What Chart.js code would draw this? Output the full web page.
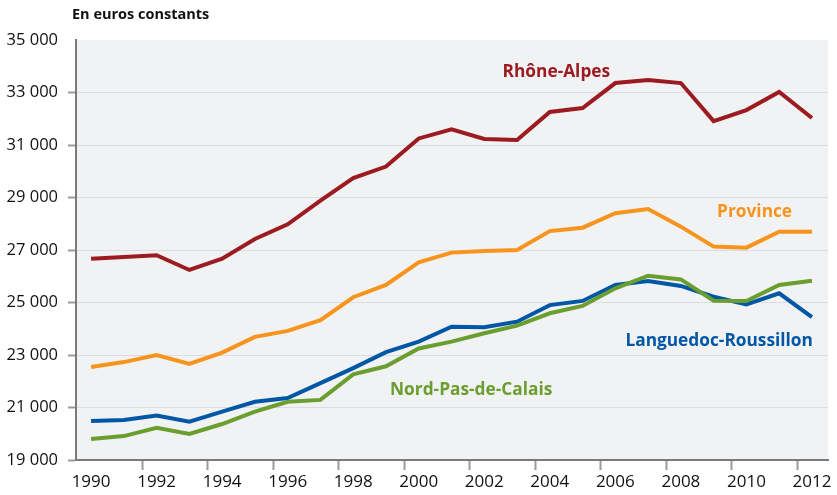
<!DOCTYPE html>
<html>
<head>
<meta charset="utf-8">
<script src="https://cdn.jsdelivr.net/npm/chart.js@4/dist/chart.umd.min.js"></script>
<style>
  html,body{margin:0;padding:0;background:#fff;}
  #wrap{width:837px;height:495px;position:relative;}
</style>
</head>
<body>
<div id="wrap"><canvas id="c"></canvas></div>
<script>
// données (en euros constants)
const years = [1990,1991,1992,1993,1994,1995,1996,1997,1998,1999,2000,2001,2002,2003,2004,2005,2006,2007,2008,2009,2010,2011,2012];
const rhoneAlpes = [26670,26730,26800,26240,26670,27420,27980,28880,29740,30180,31250,31600,31230,31190,32260,32410,33360,33480,33360,31910,32330,33020,32030];
const province   = [22540,22730,23000,22660,23090,23690,23920,24330,25200,25670,26530,26900,26960,27000,27720,27850,28400,28560,27890,27130,27090,27700,27700];
const languedoc  = [20490,20520,20690,20460,20840,21220,21360,21930,22500,23110,23510,24080,24060,24270,24900,25060,25670,25820,25630,25220,24930,25350,24440];
const nordPas    = [19800,19910,20230,19990,20370,20840,21220,21290,22260,22570,23250,23510,23830,24120,24590,24870,25540,26020,25880,25070,25060,25670,25830];
const yTicks = [19000,21000,23000,25000,27000,29000,31000,33000,35000];
const xLabels = [1990,1992,1994,1996,1998,2000,2002,2004,2006,2008,2010,2012];

const FONT = '"Open Sans", "DejaVu Sans", sans-serif';
const fmt = v => String(v).replace(/\B(?=(\d{3})+(?!\d))/g, ' ');
const pts = arr => years.map((y,i)=>({x:y, y:arr[i]}));

// étiquettes des séries : [texte, couleur, année, valeur, alignement]
const seriesLabels = [
  ['Rhône-Alpes', '#9b1b20', 2004.2, 33780, 'center'],
  ['Province', '#f7941d', 2010.25, 28450, 'center'],
  ['Languedoc-Roussillon', '#0057a6', 2012.03, 23530, 'right'],
  ['Nord-Pas-de-Calais', '#6a9e2f', 2001.6, 21670, 'center']
];

const bgPlugin = {
  id:'bg',
  beforeDraw(chart){
    const {ctx, chartArea:a} = chart;
    ctx.save(); ctx.fillStyle='#f1f2f4';
    ctx.fillRect(a.left, a.top, a.right-a.left, a.bottom-a.top);
    ctx.restore();
  },
  afterDraw(chart){
    const {ctx, scales:{x,y}} = chart;
    ctx.save();
    ctx.fillStyle='#111'; ctx.font='bold 14.5px '+FONT; ctx.textBaseline='middle'; ctx.textAlign='left';
    ctx.fillText('En euros constants', 72, 15);
    ctx.font='bold 17.3px '+FONT;
    seriesLabels.forEach(([t,c,xv,yv,al])=>{
      ctx.fillStyle=c; ctx.textAlign=al;
      ctx.fillText(t, x.getPixelForValue(xv), y.getPixelForValue(yv));
    });
    ctx.restore();
  }
};

const ds = (data, color) => ({data:pts(data), borderColor:color, borderWidth:4, pointRadius:0, tension:0, fill:false});

new Chart(document.getElementById('c'), {
  type:'line',
  data:{ datasets:[
    ds(nordPas, '#6a9e2f'),
    ds(languedoc, '#0057a6'),
    ds(province, '#f7941d'),
    ds(rhoneAlpes, '#9b1b20')
  ]},
  options:{
    responsive:true, maintainAspectRatio:false, animation:false,
    layout:{padding:{top:40, right:9, left:0, bottom:0}},
    plugins:{legend:{display:false}, tooltip:{enabled:false}},
    scales:{
      x:{
        type:'linear', min:1989.54, max:2012.49,
        afterBuildTicks(s){
          const t=[];
          xLabels.forEach(v=>{ t.push({value:v}); if(v<2012) t.push({value:v+1.56}); });
          s.ticks=t;
        },
        afterFit(s){ s.height=35; },
        border:{color:'#7a7a7a', width:2},
        grid:{drawOnChartArea:false, drawTicks:true, tickLength:10, tickWidth:2,
          tickColor:c => (c.tick && Number.isInteger(c.tick.value)) ? 'rgba(0,0,0,0)' : '#9a9a9a'},
        ticks:{autoSkip:false, maxRotation:0, padding:2, color:'#111', font:{family:FONT, size:17},
          callback:v => Number.isInteger(v) ? String(v) : ''}
      },
      y:{
        min:19000, max:35000,
        afterBuildTicks(s){ s.ticks = yTicks.map(v=>({value:v})); },
        afterFit(s){ s.width=76; },
        border:{color:'#7a7a7a', width:2},
        grid:{color:c => (c.tick && (c.tick.value===35000 || c.tick.value===19000)) ? 'rgba(0,0,0,0)' : '#dcdde0',
          lineWidth:1, drawTicks:true, tickLength:8, tickWidth:2,
          tickColor:c => (c.tick && c.tick.value===35000) ? 'rgba(0,0,0,0)' : '#9a9a9a'},
        ticks:{padding:10, color:'#111', font:{family:FONT, size:16.5}, callback:v => fmt(v)}
      }
    }
  },
  plugins:[bgPlugin]
});
</script>
</body>
</html>
